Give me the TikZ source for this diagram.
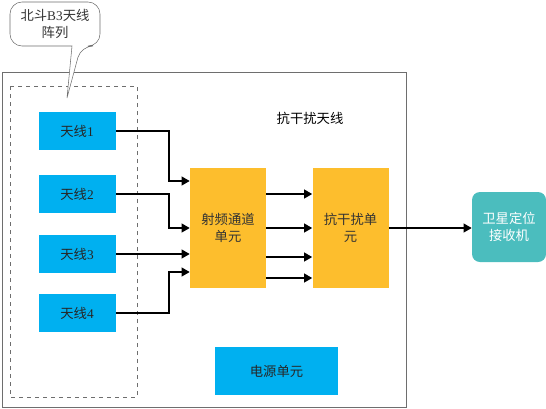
\documentclass[tikz,border=0pt]{standalone}
\usepackage{fontspec}
\setmainfont{Liberation Serif}
\newfontfamily\cjk{Noto Sans CJK SC}
\usetikzlibrary{positioning,arrows.meta}
\definecolor{antblue}{RGB}{0,176,240}
\definecolor{unitorange}{RGB}{253,190,45}
\definecolor{rxteal}{RGB}{75,189,190}
\definecolor{framegray}{RGB}{110,110,110}

\begin{document}
\begin{tikzpicture}[x=0.75pt, y=-0.75pt, font=\fontsize{10}{13}\selectfont,
  >={Triangle[length=6pt,width=6.5pt]},
  antbox/.style={fill=antblue, minimum width=57.75pt, minimum height=28.5pt, inner sep=0pt, text=black!85},
  unitbox/.style={fill=unitorange, minimum width=57pt, minimum height=90pt, inner sep=0pt, align=center, text=black!80},
  link/.style={->, line width=1.2pt}]
\useasboundingbox (0,0) rectangle (546,408);
% anti-jamming antenna housing and array frame
\draw[framegray] (2,72) rectangle (406,407);
\draw[framegray, dashed] (10,86) rectangle (137,397);
\node[font=\cjk\fontsize{10}{13}\selectfont] (title) at (310,118) {抗干扰天线};
% callout for the array
\draw[framegray, fill=white] (67,98) -- (72,46) [rounded corners=9] -- (10,46) -- (10,2)
  -- (100,2) -- (100,46) -- (81,46) [sharp corners] -- cycle;
\node[align=center, text=black!80] (arrlabel) at (55,24) {{\cjk 北斗}B3{\cjk 天线}\\{\cjk 阵列}};
% antennas
\foreach \i/\y in {1/131,2/194,3/254,4/313}
  \node[antbox] (ant\i) at (77,\y) {{\cjk 天线}\i};
% processing units
\node[unitbox] (rf) at (228,228) {\cjk 射频通道\\\cjk 单元};
\node[unitbox] (ai) at (350.5,228) {\cjk 抗干扰单\\\cjk 元};
\node[fill=antblue, minimum width=92pt, minimum height=36pt, inner sep=0pt, text=black!85] (pwr) at (276.5,371) {\cjk 电源单元};
\node[fill=rxteal, rounded corners=6pt, minimum width=55.5pt, minimum height=52.5pt, inner sep=0pt, align=center, text=white] (rx) at (509,227) {\cjk 卫星定位\\\cjk 接收机};
% antennas to rf channels
\draw[link] (ant1.east) -- ++(53,0) |- (rf.west |- 0,181);
\draw[link] (ant2.east) -- ++(53,0) |- (rf.west |- 0,228);
\draw[link] (ant3.east) -- (rf.west |- ant3.east);
\draw[link] (ant4.east) -- ++(53,0) |- (rf.west |- 0,272);
% rf to anti-jamming unit
\foreach \y in {194,228,257,278}
  \draw[link] (rf.east |- 0,\y) -- (ai.west |- 0,\y);
\draw[link] (ai.east) -- (rx.west |- ai.east);
\end{tikzpicture}
\end{document}
